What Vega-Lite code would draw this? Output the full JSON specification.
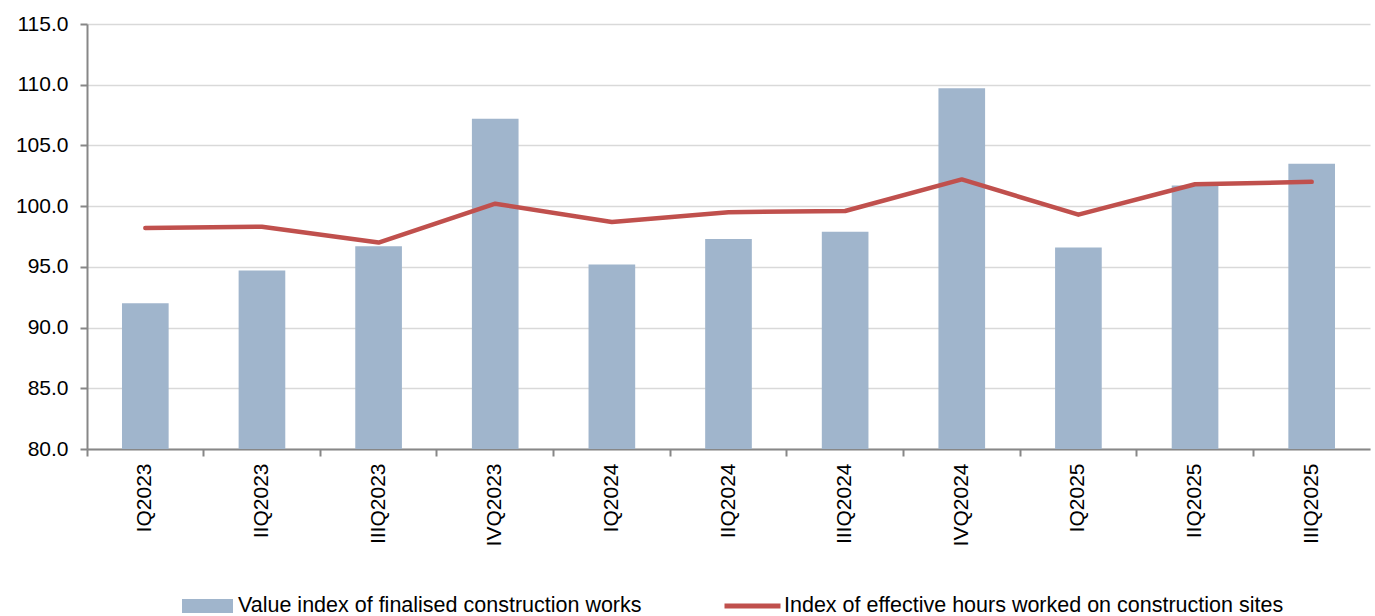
{
  "$schema": "https://vega.github.io/schema/vega-lite/v6.json",
  "autosize": "none",
  "padding": {"left": 87, "top": 24, "right": 5, "bottom": 167},
  "width": 1283,
  "height": 425,
  "background": "white",
  "config": {
    "view": {"stroke": null},
    "font": "Liberation Sans",
    "axis": {"labelFont": "Liberation Sans", "labelColor": "#000000", "labelFontSize": 21},
    "legend": {"labelFont": "Liberation Sans", "labelFontSize": 21.5, "labelColor": "#000000", "labelLimit": 0}
  },
  "data": {
    "values": [
      {"quarter": "IQ2023", "value_index": 92.0, "hours_index": 98.2},
      {"quarter": "IIQ2023", "value_index": 94.7, "hours_index": 98.3},
      {"quarter": "IIIQ2023", "value_index": 96.7, "hours_index": 97.0},
      {"quarter": "IVQ2023", "value_index": 107.2, "hours_index": 100.2},
      {"quarter": "IQ2024", "value_index": 95.2, "hours_index": 98.7},
      {"quarter": "IIQ2024", "value_index": 97.3, "hours_index": 99.5},
      {"quarter": "IIIQ2024", "value_index": 97.9, "hours_index": 99.6},
      {"quarter": "IVQ2024", "value_index": 109.7, "hours_index": 102.2},
      {"quarter": "IQ2025", "value_index": 96.6, "hours_index": 99.3},
      {"quarter": "IIQ2025", "value_index": 101.7, "hours_index": 101.8},
      {"quarter": "IIIQ2025", "value_index": 103.5, "hours_index": 102.0}
    ]
  },
  "encoding": {
    "x": {
      "field": "quarter",
      "type": "nominal",
      "sort": null,
      "scale": {"paddingInner": 0, "paddingOuter": 0},
      "axis": {
        "title": null,
        "labelAngle": -90,
        "bandPosition": 0,
        "labelPadding": 7,
        "labelFontSize": 21,
        "tickSize": 7,
        "tickColor": "#878787",
        "tickWidth": 2,
        "domainColor": "#878787",
        "domainWidth": 2,
        "grid": false
      }
    }
  },
  "layer": [
    {
      "mark": {"type": "bar", "width": {"band": 0.4}, "clip": true},
      "encoding": {
        "y": {
          "field": "value_index",
          "type": "quantitative",
          "scale": {"domain": [80, 115], "zero": false, "nice": false},
          "axis": {
            "title": null,
            "values": [80, 85, 90, 95, 100, 105, 110, 115],
            "format": ".1f",
            "labelFontSize": 21,
            "tickSize": 7,
            "labelPadding": 12,
            "tickColor": "#878787",
            "tickWidth": 2,
            "domainColor": "#878787",
            "domainWidth": 2,
            "grid": true,
            "gridColor": "#d9d9d9",
            "gridWidth": 1.5
          }
        },
        "y2": {"datum": 80},
        "color": {
          "datum": "Value index of finalised construction works",
          "scale": {"range": ["#a0b5cc"]},
          "legend": {
            "title": null,
            "orient": "none",
            "legendX": 95,
            "legendY": 556.5,
            "symbolType": "M-1,-0.275L1,-0.275L1,0.275L-1,0.275Z",
            "symbolSize": 2601,
            "symbolStrokeWidth": 0,
            "labelOffset": 5
          }
        }
      }
    },
    {
      "mark": {"type": "line", "strokeWidth": 4.5, "strokeCap": "round", "strokeJoin": "round"},
      "encoding": {
        "y": {"field": "hours_index", "type": "quantitative"},
        "stroke": {
          "datum": "Index of effective hours worked on construction sites",
          "scale": {"range": ["#c0504d"]},
          "legend": {
            "title": null,
            "orient": "none",
            "legendX": 635,
            "legendY": 551.5,
            "symbolType": "stroke",
            "symbolSize": 3136,
            "symbolStrokeWidth": 5,
            "labelOffset": 1
          }
        }
      }
    }
  ]
}
